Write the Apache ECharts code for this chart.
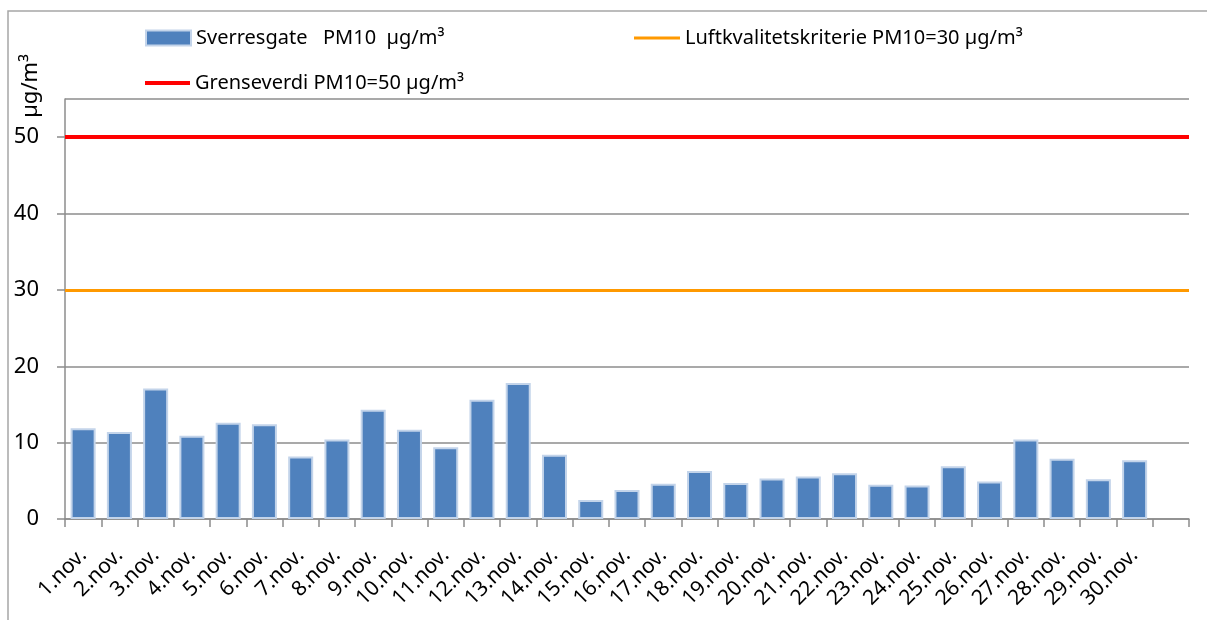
<!DOCTYPE html>
<html>
<head>
<meta charset="utf-8">
<script src="https://cdn.jsdelivr.net/npm/echarts@6/dist/echarts.min.js"></script>
<style>
  html, body { margin: 0; padding: 0; background: #fff; }
  #chart { width: 1207px; height: 620px; }
</style>
</head>
<body>
<div id="chart"></div>
<script>
  // dager i november (siste plass er tom, som i originalen)
  var days = ['1.nov.', '2.nov.', '3.nov.', '4.nov.', '5.nov.', '6.nov.', '7.nov.', '8.nov.', '9.nov.', '10.nov.',
    '11.nov.', '12.nov.', '13.nov.', '14.nov.', '15.nov.', '16.nov.', '17.nov.', '18.nov.', '19.nov.', '20.nov.',
    '21.nov.', '22.nov.', '23.nov.', '24.nov.', '25.nov.', '26.nov.', '27.nov.', '28.nov.', '29.nov.', '30.nov.', ''];
  var pm10 = [11.9, 11.4, 17.1, 10.9, 12.6, 12.4, 8.2, 10.4, 14.3, 11.7,
    9.4, 15.6, 17.8, 8.4, 2.5, 3.8, 4.6, 6.3, 4.7, 5.3,
    5.55, 6.0, 4.5, 4.4, 6.9, 4.9, 10.4, 7.9, 5.2, 7.7];
  var criteria = 30;
  var limit = 50;
  var yTicks = [0, 10, 20, 30, 40, 50];

  var barName = 'Sverresgate   PM10  µg/m³';
  var critName = 'Luftkvalitetskriterie PM10=30 µg/m³';
  var limitName = 'Grenseverdi PM10=50 µg/m³';

  var font = 'Noto Sans';
  var grey = '#8c8c8c';

  var chart = echarts.init(document.getElementById('chart'));
  var legendText = { fontFamily: font, fontSize: 20, color: '#000' };

  chart.setOption({
    animation: false,
    textStyle: { fontFamily: font },
    graphic: [{
      type: 'rect',
      shape: { x: 8, y: 11, width: 1400, height: 800 },
      style: { fill: 'none', stroke: '#a6a6a6', lineWidth: 1.5 },
      silent: true
    }, {
      type: 'text',
      x: 31,
      y: 86,
      rotation: Math.PI / 2,
      style: {
        text: 'µg/m³',
        font: '22px "Noto Sans"',
        fill: '#000',
        align: 'center',
        verticalAlign: 'middle'
      }
    }],
    legend: [{
      left: 140, top: 23,
      itemWidth: 45, itemHeight: 15,
      icon: 'rect',
      textStyle: legendText,
      data: [barName]
    }, {
      left: 629, top: 23,
      itemWidth: 46, itemHeight: 3,
      icon: 'rect',
      textStyle: legendText,
      data: [critName]
    }, {
      left: 140, top: 68,
      itemWidth: 45, itemHeight: 4,
      icon: 'rect',
      textStyle: legendText,
      data: [limitName]
    }],
    grid: { left: 65, right: 18, top: 99, bottom: 101 },
    xAxis: {
      type: 'category',
      data: days,
      axisLine: { lineStyle: { color: grey, width: 1.5 } },
      axisTick: { show: true, length: 8, lineStyle: { color: grey, width: 1.5 } },
      axisLabel: {
        rotate: 45,
        interval: 0,
        margin: 33,
        fontFamily: font,
        fontSize: 21,
        color: '#000'
      },
      splitLine: { show: false }
    },
    yAxis: {
      type: 'value',
      min: 0,
      max: 55,
      interval: 10,
      axisLine: { show: true, lineStyle: { color: grey, width: 1.5 } },
      axisTick: { show: true, length: 8, lineStyle: { color: grey, width: 1.5 } },
      axisLabel: {
        margin: 26,
        fontFamily: font,
        fontSize: 22,
        color: '#000',
        showMaxLabel: false,
        formatter: function (v) { return yTicks.indexOf(v) >= 0 ? String(v) : ''; }
      },
      splitLine: { show: true, lineStyle: { color: grey, width: 1.5 } }
    },
    series: [{
      name: barName,
      type: 'bar',
      data: pm10,
      barWidth: '69%',
      itemStyle: { color: '#4f81bd', borderColor: '#c3d4ea', borderWidth: 2 }
    }, {
      name: critName,
      type: 'line',
      data: [],
      itemStyle: { color: '#ff9900' },
      lineStyle: { color: '#ff9900' },
      markLine: {
        silent: true,
        symbol: 'none',
        label: { show: false },
        lineStyle: { color: '#ff9900', width: 3, type: 'solid' },
        data: [{ yAxis: criteria }]
      }
    }, {
      name: limitName,
      type: 'line',
      data: [],
      itemStyle: { color: '#ff0000' },
      lineStyle: { color: '#ff0000' },
      markLine: {
        silent: true,
        symbol: 'none',
        label: { show: false },
        lineStyle: { color: '#ff0000', width: 4, type: 'solid' },
        data: [{ yAxis: limit }]
      }
    }]
  });
</script>
</body>
</html>
